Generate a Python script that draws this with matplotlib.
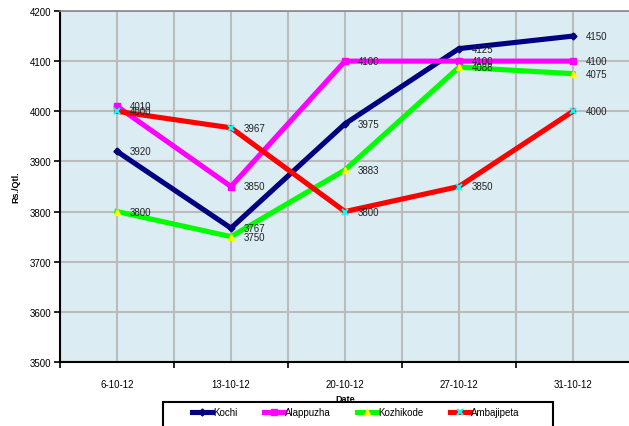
import numpy as np
from matplotlib import pyplot as plt
from matplotlib.patches import Rectangle

plt.rcParams['font.family'] = ['Liberation Sans', 'DejaVu Sans']

dates = ['6-10-12', '13-10-12', '20-10-12', '27-10-12', '31-10-12']
kochi = [3920, 3767, 3975, 4125, 4150]
alappuzha = [4010, 3850, 4100, 4100, 4100]
kozhikode = [3800, 3750, 3883, 4088, 4075]
ambajipeta = [4000, 3967, 3800, 3850, 4000]

fig = plt.figure(figsize=(6.29, 4.27), dpi=100)
ax = fig.add_axes([60/629, 1 - 363/427, 570/629, 351/427])
ax.set_facecolor('#DBEDF3')

x = np.arange(len(dates))

# линии с маркерами
ax.plot(x, kochi, color='#000080', lw=3.7, marker='D', ms=3.5,
        mfc='#000080', mec='#000080', label='Kochi', zorder=3)
ax.plot(x, alappuzha, color='#FF00FF', lw=3.7, marker='s', ms=4.5,
        mfc='#FF00FF', mec='#FF00FF', label='Alappuzha', zorder=3)
ax.plot(x, kozhikode, color='#00FF00', lw=3.7, marker='^', ms=4.5,
        mfc='#FFFF00', mec='#FFFF00', label='Kozhikode', zorder=3)
ax.plot(x, ambajipeta, color='#FF0000', lw=3.7, marker='x', ms=4.5, mew=1.5,
        mfc='#00FFFF', mec='#00FFFF', label='Ambajipeta', zorder=3)

# подписи значений
for series in (kochi, alappuzha, kozhikode, ambajipeta):
    for xi, v in zip(x, series):
        ax.annotate(str(v), (xi, v), xytext=(9, 0), textcoords='offset points',
                    ha='left', va='center', fontsize=7, color='#222222', zorder=4)

ax.set_xlim(-0.5, 4.5)
ax.set_ylim(3500, 4200)
ax.set_yticks(np.arange(3500, 4201, 100))
ax.set_xticks(np.arange(-0.5, 4.6, 1.0))
ax.set_xticklabels([])
ax.set_xticks(x, minor=True)
ax.set_xticklabels(dates, minor=True, fontsize=7)
ax.tick_params(axis='x', which='minor', length=0, pad=12)
ax.tick_params(axis='x', which='major', length=4, width=1.2, direction='out')
ax.tick_params(axis='y', length=4, width=1.2, direction='out', labelsize=7, pad=2)

ax.set_axisbelow(True)
ax.grid(True, which='both', color='#BBBBBB', lw=1.5)

ax.spines['left'].set_color('black')
ax.spines['left'].set_linewidth(1.5)
ax.spines['bottom'].set_color('black')
ax.spines['bottom'].set_linewidth(1.5)
ax.spines['top'].set_color('#888888')
ax.spines['top'].set_linewidth(1.2)
ax.spines['right'].set_visible(False)

ax.set_ylabel('Rs./Qtl.', fontsize=6.5, fontweight='bold')
ax.yaxis.set_label_coords(-0.07, 0.5)
ax.set_xlabel('Date', fontsize=6.5, fontweight='bold', labelpad=4)

# рамка легенды (уходит за нижний край)
fig.patches.append(Rectangle((163/629, -0.05), 390/629, 0.05 + 1 - 403/427,
                             transform=fig.transFigure, fill=False,
                             edgecolor='black', lw=1.5))
leg = fig.legend(loc='center', bbox_to_anchor=(356/629, 1 - 413/427),
                 ncol=4, fontsize=7, frameon=False, handlelength=2.0,
                 handletextpad=0.15, columnspacing=2.75)

plt.savefig('out.png', dpi=100)
